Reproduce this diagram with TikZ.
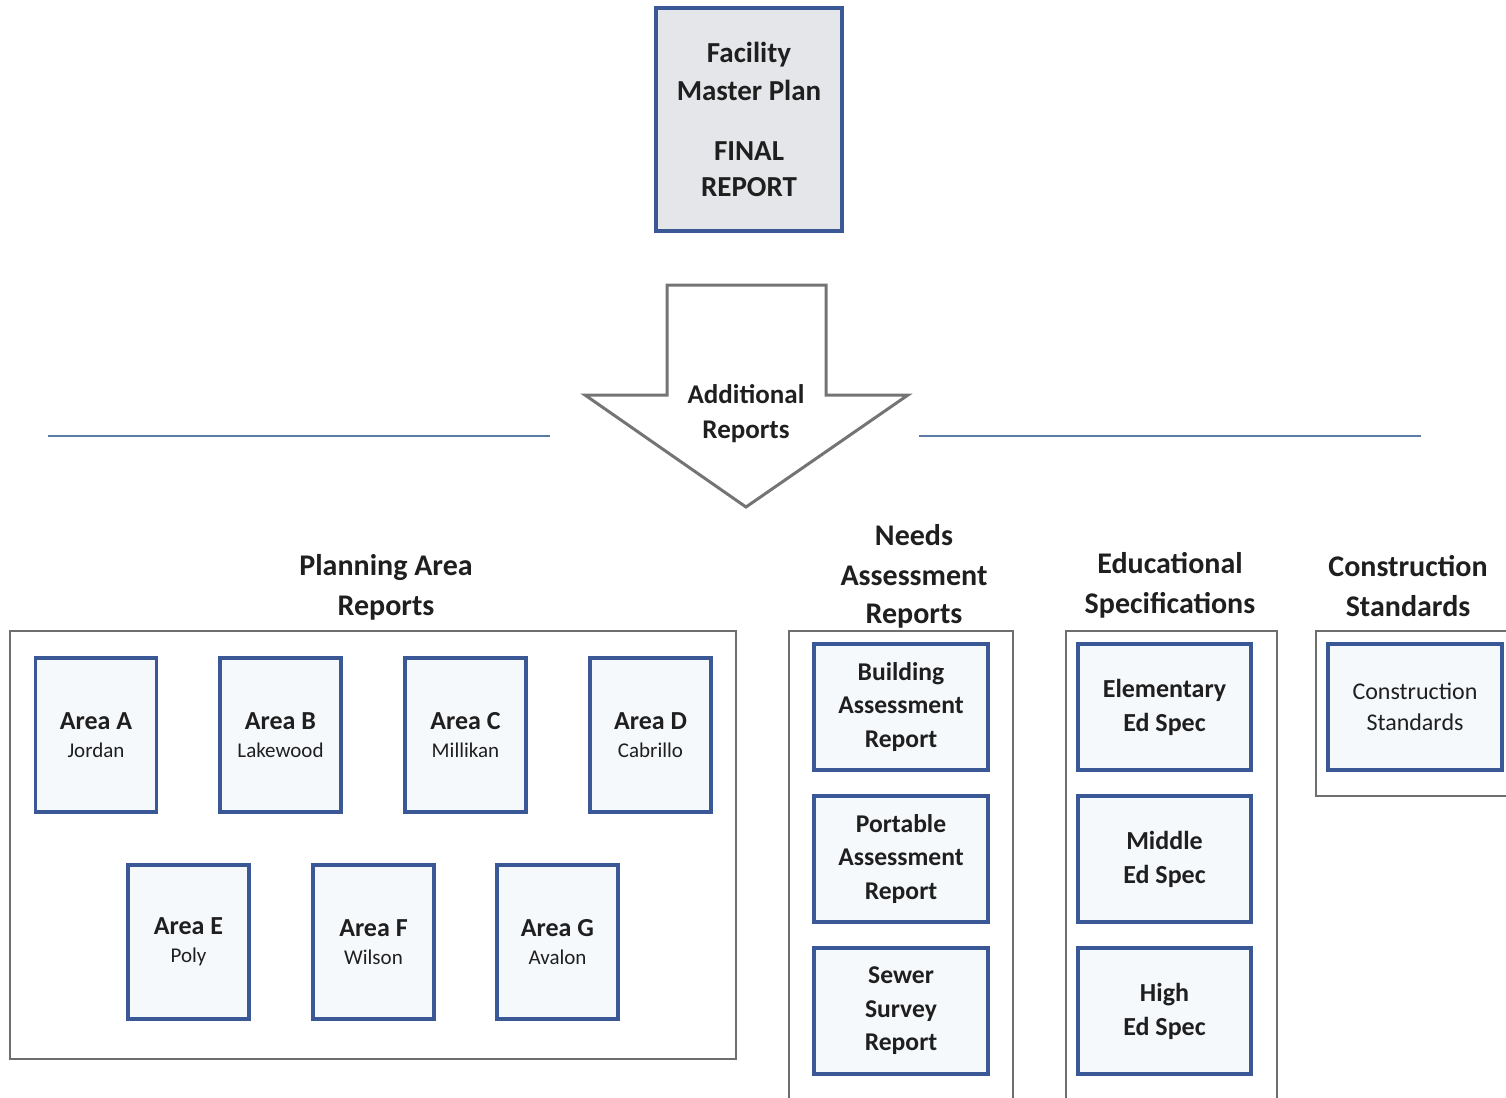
\documentclass[tikz,border=0pt]{standalone}
\usepackage{fontspec}
\setmainfont{Carlito}
\definecolor{boxblue}{HTML}{3A5896}
\definecolor{topfill}{HTML}{E4E6EA}
\definecolor{boxfill}{HTML}{F6F9FC}
\definecolor{grpgray}{HTML}{6E6E6E}
\definecolor{arrgray}{HTML}{747474}
\definecolor{linblue}{HTML}{5B7BA6}
\begin{document}
\begin{tikzpicture}[x=0.5pt,y=-0.5pt,
  bluebox/.style={draw=boxblue,line width=1.6pt,fill=boxfill,align=center,inner sep=0pt,text=black!88},
  areabox/.style={bluebox,minimum width=60.5pt,minimum height=77pt,font=\bfseries\fontsize{13}{15}\selectfont},
  widebox/.style={bluebox,minimum width=87pt,minimum height=63pt},
  grpbox/.style={draw=grpgray,line width=0.7pt},
  title/.style={align=center,font=\bfseries\fontsize{15}{20}\selectfont,text=black!88},
  hline/.style={draw=linblue,line width=1pt}]
\useasboundingbox (0,0) rectangle (1506,1098);
\clip (0,0) rectangle (1506,1098);
% top box
\node[bluebox,fill=topfill,minimum width=93pt,minimum height=111.5pt,font=\bfseries\fontsize{14.5}{19}\selectfont] (top) at (749,119.5)
  {Facility\\Master Plan\\[11pt]FINAL\\[-1pt]REPORT};
% arrow
\draw[draw=arrgray,line width=1.5pt,fill=white,line join=miter]
  (667,285) -- (826,285) -- (826,395) -- (908,395) -- (746,507) -- (585,395) -- (667,395) -- cycle;
\node[align=center,font=\bfseries\fontsize{13.5}{17.5}\selectfont,text=black!88] (addl) at (746,413.5) {Additional\\Reports};
% horizontal lines
\coordinate (l1) at (48,436); \coordinate (l2) at (550,436);
\coordinate (r1) at (919,436); \coordinate (r2) at (1421,436);
\draw[hline] (l1) -- (l2);
\draw[hline] (r1) -- (r2);
% titles
\node[title] (tplan) at (386,587) {Planning Area\\Reports};
\node[title] (tneed) at (914,576) {Needs\\Assessment\\[-1pt]Reports};
\node[title] (tedu) at (1170,585) {Educational\\Specifications};
\node[title] (tcon) at (1408,586) {Construction\\Standards};
% group boxes
\draw[grpbox] (10,631) rectangle (736,1059);
\draw[grpbox] (789,631) rectangle (1013,1120);
\draw[grpbox] (1066,631) rectangle (1277,1120);
\draw[grpbox] (1316,631) rectangle (1530,796);
% area boxes
\newcommand{\areatxt}[2]{#1\\[-1pt]{\mdseries\fontsize{10.5}{15}\selectfont #2}}
\node[areabox] (ara) at (96,735) {\areatxt{Area A}{Jordan}};
\node[areabox] (arb) at (280.5,735) {\areatxt{Area B}{Lakewood}};
\node[areabox] (arc) at (465.5,735) {\areatxt{Area C}{Millikan}};
\node[areabox] (ard) at (650.5,735) {\areatxt{Area D}{Cabrillo}};
\node[areabox] (are) at (188.5,942) {\areatxt{Area E}{Poly}};
\node[areabox] (arf) at (373.5,942) {\areatxt{Area F}{Wilson}};
\node[areabox] (arg) at (557.5,942) {\areatxt{Area G}{Avalon}};
% needs boxes
\tikzset{needtxt/.style={font=\bfseries\fontsize{12.8}{16.75}\selectfont}}
\node[widebox,needtxt] (nb) at (901,707) {Building\\Assessment\\Report};
\node[widebox,needtxt] (np) at (901,859) {Portable\\Assessment\\Report};
\node[widebox,needtxt] (ns) at (901,1011) {Sewer\\Survey\\Report};
% edu boxes
\tikzset{edutxt/.style={minimum width=86.5pt,font=\bfseries\fontsize{13}{17}\selectfont}}
\node[widebox,edutxt] (ee) at (1164.5,707) {Elementary\\Ed Spec};
\node[widebox,edutxt] (em) at (1164.5,859) {Middle\\Ed Spec};
\node[widebox,edutxt] (eh) at (1164.5,1011) {High\\Ed Spec};
% construction box
\node[widebox,font=\fontsize{12}{15.5}\selectfont] (cs) at (1415,707) {Construction\\Standards};
\end{tikzpicture}
\end{document}
